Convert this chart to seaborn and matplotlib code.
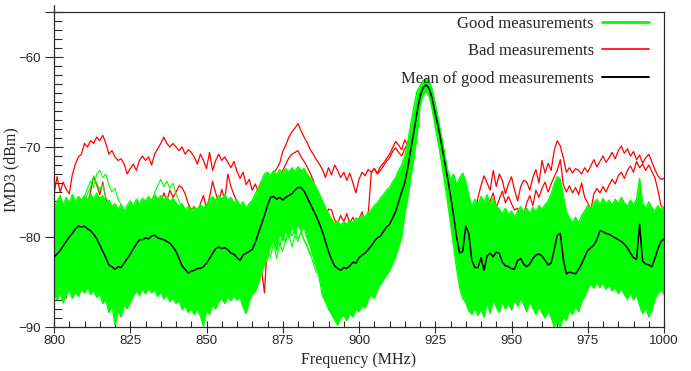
import numpy as np
import pandas as pd
import matplotlib
matplotlib.use("Agg")
import matplotlib.pyplot as plt
import seaborn as sns
from matplotlib.lines import Line2D
from matplotlib.ticker import MultipleLocator

# Frequency grid (MHz), 1 MHz steps
freq = np.arange(800, 1001, 1)

# Mean of the good measurements (dBm)
mean_good = [
    -82.2, -81.9, -81.5, -81.0, -80.5, -80.0, -79.6, -79.1, -78.8, -78.9,
    -78.8, -79.1, -79.3, -79.7, -80.2, -80.9, -81.6, -82.3, -83.1, -83.3,
    -83.6, -83.3, -83.4, -82.9, -82.4, -81.9, -81.3, -80.8, -80.3, -80.3,
    -80.1, -80.2, -79.9, -79.8, -80.1, -80.2, -80.3, -80.5, -80.7, -81.1,
    -81.6, -82.4, -83.2, -83.6, -84.0, -83.8, -83.7, -83.5, -83.5, -83.3,
    -82.9, -82.4, -81.8, -81.3, -81.1, -81.3, -81.2, -81.4, -81.8, -81.9,
    -82.3, -82.6, -82.0, -81.8, -81.6, -81.4, -80.6, -79.6, -78.6, -77.6,
    -76.5, -75.6, -75.5, -75.8, -75.6, -75.9, -75.6, -75.4, -75.2, -74.8,
    -74.5, -74.5, -74.9, -75.6, -76.3, -77.0, -77.7, -78.5, -79.4, -80.5,
    -81.6, -82.5, -83.2, -83.5, -83.7, -83.4, -83.5, -83.2, -82.8, -82.9,
    -82.3, -82.0, -81.8, -81.4, -81.0, -80.5, -80.1, -79.9, -79.4, -78.9,
    -78.6, -77.9, -77.2, -76.1, -75.0, -74.0, -72.3, -70.2, -68.3, -66.2,
    -64.4, -63.4, -63.1, -63.5, -64.6, -66.3, -67.8, -69.6, -71.5, -73.4,
    -75.4, -77.6, -80.0, -81.8, -81.6, -78.8, -79.6, -82.6, -83.4, -83.4,
    -82.3, -83.7, -82.1, -81.8, -82.2, -81.7, -81.8, -82.8, -83.2, -83.3,
    -83.5, -83.6, -82.6, -82.4, -83.0, -83.3, -83.0, -82.4, -82.0, -81.9,
    -82.1, -82.6, -83.1, -82.9, -81.4, -79.8, -79.6, -82.5, -84.1, -83.9,
    -84.0, -84.1, -83.6, -83.0, -82.2, -81.5, -81.2, -80.9, -80.3, -79.3,
    -79.4, -79.6, -79.7, -79.9, -80.1, -80.3, -80.5, -80.8, -81.2, -81.8,
    -82.3, -82.5, -78.6, -82.7, -83.0, -83.1, -83.3, -82.4, -81.3, -80.5,
    -80.2,
]

# Upper edge of the bundle of good measurements
good_upper = [
    -76.8, -76.0, -75.4, -76.5, -75.6, -76.2, -75.3, -76.1, -75.5, -75.9,
    -75.4, -75.9, -75.2, -75.8, -75.1, -75.7, -75.4, -76.2, -75.9, -76.6,
    -76.3, -76.9, -76.4, -77.1, -76.5, -76.0, -76.6, -75.8, -76.3, -75.7,
    -76.0, -75.5, -75.9, -75.3, -75.8, -75.4, -75.9, -75.5, -76.1, -75.7,
    -76.2, -76.6, -76.3, -77.0, -76.6, -77.1, -76.7, -76.9, -76.4, -76.8,
    -76.4, -75.9, -75.5, -76.0, -75.4, -75.8, -75.3, -75.9, -75.6, -76.2,
    -75.9, -76.5, -76.1, -76.8, -76.3, -75.9, -75.2, -74.5, -73.8, -73.0,
    -72.8, -73.2, -72.6, -73.1, -72.5, -72.9, -72.4, -72.8, -72.3, -72.7,
    -72.2, -72.6, -72.4, -73.0, -73.4, -73.9, -74.5, -75.2, -76.0, -76.8,
    -77.4, -78.0, -78.5, -78.2, -78.7, -78.3, -78.6, -78.1, -78.4, -77.9,
    -78.0, -77.6, -77.8, -77.2, -77.0, -76.5, -76.2, -75.7, -75.3, -74.8,
    -74.5, -73.9, -73.4, -72.6, -72.0, -71.0, -69.4, -67.4, -65.5, -63.8,
    -63.2, -62.6, -62.4, -62.7, -63.6, -65.2, -66.9, -68.7, -70.6, -72.5,
    -73.6, -73.0, -74.2, -73.4, -72.9, -73.8, -75.4, -76.6, -75.8, -76.4,
    -75.5, -76.1, -75.3, -76.4, -75.7, -76.6, -76.9, -77.4, -76.8, -77.5,
    -77.1, -77.8, -77.2, -76.6, -77.3, -76.8, -77.4, -76.7, -77.2, -76.5,
    -76.9, -76.4, -76.0, -75.2, -74.1, -73.3, -73.6, -75.5, -77.2, -77.9,
    -78.4, -77.8, -78.5, -77.6, -77.1, -76.5, -76.9, -76.2, -75.8, -76.4,
    -75.7, -76.3, -75.9, -76.5, -75.8, -76.3, -75.6, -76.2, -76.6, -75.9,
    -76.4, -75.8, -73.5, -76.3, -76.8, -76.1, -76.7, -77.2, -76.5, -77.0,
    -76.6,
]

# Lower edge of the bundle of good measurements
good_lower = [
    -86.4, -87.0, -86.2, -87.3, -86.5, -85.9, -86.8, -86.1, -86.6, -85.8,
    -86.2, -85.6, -86.4, -85.9, -86.7, -86.3, -87.4, -86.9, -88.4, -87.6,
    -89.8, -88.2, -88.9, -87.5, -88.0, -87.2, -86.6, -86.0, -86.5, -85.8,
    -86.3, -85.7, -86.2, -85.9, -86.6, -86.1, -86.9, -86.4, -87.2, -86.8,
    -87.4, -87.0, -88.1, -87.6, -88.4, -87.9, -88.6, -88.0, -88.8, -89.9,
    -88.2, -88.6, -87.5, -88.0, -87.2, -86.8, -87.4, -86.6, -87.1, -86.5,
    -87.0, -86.7, -87.8, -88.5, -87.2, -86.4, -86.0, -85.2, -84.0, -83.1,
    -82.4, -81.0, -80.2, -81.5, -79.6, -80.4, -79.2, -80.1, -78.9, -79.7,
    -78.6, -79.4, -78.9, -80.2, -81.0, -82.3, -83.4, -84.6, -86.5, -87.2,
    -88.0, -88.6, -89.2, -89.8, -89.0, -88.7, -89.3, -88.4, -88.9, -88.0,
    -88.3, -87.6, -87.9, -87.0, -86.4, -86.8, -85.9, -85.3, -84.8, -84.2,
    -83.8, -83.0, -82.2, -81.1, -80.0, -77.5, -75.6, -73.4, -71.2, -68.9,
    -65.5, -64.2, -63.8, -64.4, -65.8, -67.8, -69.6, -71.6, -73.8, -76.0,
    -78.5, -81.0, -83.5, -85.6, -86.8, -87.3, -88.2, -88.6, -87.9, -88.7,
    -88.0, -88.9, -87.3, -88.5, -86.9, -87.8, -88.4, -87.2, -88.0, -87.4,
    -88.1, -87.0, -87.7, -86.8, -87.5, -88.3, -87.1, -87.9, -88.6, -87.8,
    -88.4, -89.0, -88.2, -88.9, -90.0, -89.4, -90.0, -88.8, -89.3, -88.1,
    -88.6, -87.7, -88.3, -87.2, -86.6, -85.8, -85.2, -85.7, -85.0, -85.6,
    -85.1, -85.8, -85.3, -86.0, -85.6, -86.3, -85.7, -86.4, -86.9, -86.2,
    -87.0, -86.4, -87.6, -88.5, -87.8, -88.9, -88.2, -86.9, -86.3, -85.8,
    -86.4,
]

# Individual good traces that leave the bundle: (start MHz, values)
good_outliers = [
    (808, [-77.0, -76.0, -75.5, -74.6, -73.8, -74.5, -73.0, -72.6, -73.4, -73.0,
           -74.2, -75.0, -74.6, -75.8, -76.4, -77.2, -77.8, -78.5, -79.2, -79.6, -80.0]),
    (810, [-76.0, -75.2, -74.4, -73.2, -74.0, -74.8, -74.1, -75.6, -76.3, -77.2,
           -76.8, -77.9, -78.3, -79.1, -78.6, -79.5, -80.2]),
    (831, [-77.0, -76.2, -75.1, -74.3, -73.6, -74.4, -73.8, -74.6, -74.0, -75.2,
           -76.0, -76.8, -77.9, -77.2, -78.4, -79.0, -79.6]),
    (870, [-81.5, -82.2, -80.6, -82.4, -80.8, -81.6, -80.2, -79.6, -81.1, -79.8,
           -80.5, -79.4, -80.3, -81.0, -81.8, -82.9, -84.0]),
    (872, [-80.0, -79.2, -81.0, -79.8, -80.6, -78.9, -79.9, -79.1, -80.2, -79.5,
           -80.4, -81.1, -82.0]),
]

# Bad measurements (dBm)
bad_a = [
    -75.2, -73.3, -75.0, -73.9, -74.7, -75.2, -73.1, -71.9, -71.1, -70.8,
    -69.6, -70.0, -69.3, -69.6, -68.9, -69.3, -68.7, -69.6, -70.8, -70.4,
    -71.1, -71.5, -71.3, -71.9, -73.0, -72.4, -71.9, -72.6, -71.5, -71.0,
    -71.5, -71.1, -72.0, -70.8, -70.2, -69.6, -68.9, -69.6, -70.0, -69.6,
    -70.0, -70.4, -70.0, -70.8, -70.3, -70.6, -71.1, -71.9, -70.8, -71.5,
    -72.4, -70.6, -72.6, -71.5, -70.8, -71.5, -71.1, -71.7, -72.3, -71.6,
    -72.7, -73.5, -72.8, -74.2, -73.6, -74.8, -74.1, -75.0, -73.9, -74.5,
    -73.8, -73.2, -72.9, -72.4, -71.8, -70.5, -69.8, -68.9, -68.3, -67.9,
    -67.4, -68.2, -68.9, -69.5, -70.3, -70.8, -71.4, -71.9, -72.5, -73.4,
    -72.3, -73.1, -72.0, -72.6, -73.4, -72.8, -73.7, -72.9, -74.0, -75.1,
    -73.6, -72.8, -73.2, -72.5, -72.8, -72.4, -72.9, -72.2, -71.8, -71.3,
    -70.8, -70.1, -69.4, -69.8, -70.3, -69.2, -69.8, -68.6, -67.5, -66.4,
    -64.8, -63.6, -63.3, -63.7, -64.8, -66.5, -68.2, -70.0, -72.0, -74.0,
    -76.5, -78.2, -79.5, -80.1, -79.4, -80.3, -79.8, -79.0, -77.6, -75.6,
    -74.3, -73.2, -74.0, -74.8, -72.6, -74.4, -73.0, -73.7, -75.2, -74.1,
    -73.3, -74.8, -76.0, -74.4, -73.7, -73.9, -74.8, -73.4, -72.5, -74.0,
    -71.5, -72.9, -71.8, -72.6, -70.4, -69.3, -69.9, -71.2, -72.8, -72.3,
    -72.9, -72.4, -72.6, -73.0, -72.3, -72.8, -72.1, -71.4, -72.2, -71.6,
    -71.0, -71.7, -71.2, -70.6, -71.3, -70.4, -69.9, -70.7, -70.2, -71.0,
    -70.5, -71.4, -70.9, -71.8, -71.2, -70.8, -71.6, -72.5, -73.2, -73.6,
    -73.5,
]

bad_b = [
    -80.5, -82.4, -84.1, -85.9, -86.8, -84.6, -82.3, -80.9, -79.5, -78.8,
    -77.6, -76.4, -74.9, -73.3, -74.2, -75.3, -73.9, -75.8, -76.4, -76.7,
    -77.4, -77.0, -77.9, -78.5, -78.2, -79.6, -80.4, -79.8, -80.9, -80.2,
    -79.4, -78.6, -77.8, -76.9, -75.7, -76.4, -75.1, -76.0, -74.8, -75.6,
    -75.0, -74.3, -74.5, -75.2, -76.3, -77.0, -76.6, -78.0, -76.3, -75.4,
    -76.8, -75.6, -73.8, -75.1, -76.2, -74.7, -75.9, -73.0, -74.4, -75.3,
    -76.1, -77.3, -76.5, -78.0, -77.4, -78.8, -77.9, -80.6, -83.5, -86.2,
    -80.4, -77.2, -75.6, -74.3, -73.1, -72.6, -71.9, -71.2, -70.8, -70.6,
    -70.4, -71.1, -71.6, -72.2, -72.9, -73.7, -74.8, -76.3, -77.1, -77.8,
    -76.9, -77.0, -78.1, -78.5, -77.6, -78.3, -77.4, -78.5, -77.8, -78.6,
    -78.0, -77.2, -78.4, -77.6, -72.9, -72.4, -73.0, -72.6, -72.1, -71.6,
    -71.2, -70.5, -70.1, -70.6, -71.0, -70.2, -69.6, -69.0, -67.8, -66.9,
    -65.2, -64.0, -63.7, -64.2, -65.4, -67.0, -68.8, -70.6, -72.6, -74.8,
    -77.2, -79.8, -81.3, -80.6, -81.7, -80.9, -81.5, -80.2, -79.6, -78.1,
    -77.5, -79.3, -76.8, -76.0, -75.1, -76.7, -75.8, -74.9, -76.2, -75.5,
    -76.3, -77.0, -76.8, -78.1, -77.5, -76.2, -75.4, -76.5, -74.8, -75.6,
    -74.6, -73.9, -75.0, -74.1, -73.3, -72.6, -71.4, -74.2, -75.0, -74.3,
    -75.1, -74.5, -75.3, -74.0, -75.6, -76.2, -77.0, -75.2, -74.6, -75.1,
    -74.4, -75.0, -74.2, -73.6, -74.1, -73.2, -72.8, -73.5, -72.6, -72.1,
    -72.8, -71.6, -72.3, -71.9, -72.6, -72.0, -72.7, -73.4, -74.8, -76.5,
    -77.0,
]

legend_labels = ["Good measurements", "Bad measurements", "Mean of good measurements"]
x_ticks = [800, 825, 850, 875, 900, 925, 950, 975, 1000]
y_ticks = [-90, -80, -70, -60, -55]
y_tick_labels = ["\u221290", "\u221280", "\u221270", "\u221260", ""]

GREEN = "#00ff00"
RED = "#ff0000"
BLACK = "#000000"
FRAME = "#2a2a2a"

sns.set_style("ticks")
plt.rcParams["font.family"] = ["Liberation Serif", "DejaVu Serif"]

fig = plt.figure(figsize=(6.91, 3.71), dpi=100)
fig.patch.set_facecolor("white")
ax = fig.add_axes([54 / 691, 1 - 327 / 371, 610 / 691, 315 / 371])

df = pd.DataFrame({
    "freq": freq,
    "mean": mean_good,
    "upper": good_upper,
    "lower": good_lower,
    "bad_a": bad_a,
    "bad_b": bad_b,
})

# bad measurements sit underneath the good bundle
for col in ["bad_a", "bad_b"]:
    sns.lineplot(data=df, x="freq", y=col, ax=ax, color=RED, lw=0.9,
                 estimator=None, sort=False, errorbar=None, legend=False, zorder=1)

# bundle of good measurements
ax.fill_between(df["freq"], df["lower"], df["upper"], color=GREEN, lw=0, zorder=2)
for col in ["upper", "lower"]:
    sns.lineplot(data=df, x="freq", y=col, ax=ax, color=GREEN, lw=1.0,
                 estimator=None, sort=False, errorbar=None, legend=False, zorder=2)
for start, vals in good_outliers:
    seg = pd.DataFrame({"freq": np.arange(start, start + len(vals)), "val": vals})
    sns.lineplot(data=seg, x="freq", y="val", ax=ax, color=GREEN, lw=0.8,
                 estimator=None, sort=False, errorbar=None, legend=False, zorder=2)

# mean curve on top
sns.lineplot(data=df, x="freq", y="mean", ax=ax, color=BLACK, lw=1.1,
             estimator=None, sort=False, errorbar=None, legend=False, zorder=3)

ax.set_xlim(800, 1000)
ax.set_ylim(-90, -55)
ax.set_xticks(x_ticks)
ax.set_xticklabels([str(t) for t in x_ticks])
ax.xaxis.set_minor_locator(MultipleLocator(5))
ax.set_yticks(y_ticks)
ax.set_yticklabels(y_tick_labels)
ax.yaxis.set_minor_locator(MultipleLocator(1))

ax.tick_params(axis="x", which="major", direction="inout", length=8, width=0.8,
               color=FRAME, labelsize=9.5, pad=2)
ax.tick_params(axis="x", which="minor", direction="in", length=4, width=0.8, color=FRAME)
ax.tick_params(axis="y", which="major", direction="inout", length=13, width=0.8,
               color=FRAME, labelsize=9.5, pad=3)
ax.tick_params(axis="y", which="minor", direction="in", length=6, width=0.8, color=FRAME)
for lab in ax.get_xticklabels() + ax.get_yticklabels():
    lab.set_family(["Liberation Sans", "DejaVu Sans"])

for side in ["left", "right", "top", "bottom"]:
    ax.spines[side].set_visible(True)
    ax.spines[side].set_color(FRAME)
    ax.spines[side].set_linewidth(0.9)
# left axis line runs a little past the frame
ax.plot([0, 0], [1, 1 + 7 / 315], transform=ax.transAxes, color=FRAME,
        lw=0.9, clip_on=False, zorder=5)

ax.set_xlabel("Frequency (MHz)", fontsize=11.5, labelpad=3)
ax.set_ylabel("IMD3 (dBm)", fontsize=11.5)
ax.yaxis.set_label_coords(-35 / 610, 0.5)

handles = [
    Line2D([], [], color=GREEN, lw=2.0),
    Line2D([], [], color=RED, lw=1.2),
    Line2D([], [], color=BLACK, lw=1.4),
]
ax.legend(handles, legend_labels, loc="upper right", bbox_to_anchor=(1.0, 1.035),
          frameon=False, markerfirst=False, fontsize=12, handlelength=2.8,
          handletextpad=0.5, labelspacing=0.68, borderaxespad=0.5)

fig.savefig("out.png", dpi=100, facecolor="white")
